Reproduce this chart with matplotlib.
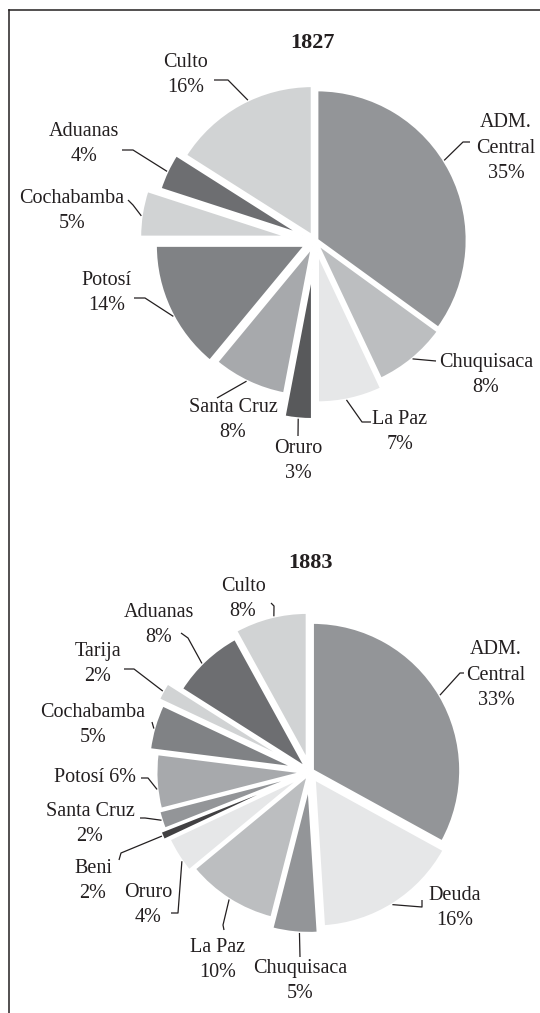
import numpy as np
import matplotlib.pyplot as plt
from matplotlib.lines import Line2D

W, H = 540, 1013
TEXT = "#231f20"

plt.rcParams["font.family"] = ["Liberation Serif", "DejaVu Serif"]

# ---- 1827 ----
cats_1827 = ["ADM.\nCentral", "Chuquisaca", "La Paz", "Oruro", "Santa Cruz",
             "Potosí", "Cochabamba", "Aduanas", "Culto"]
pct_1827 = [35, 8, 7, 3, 8, 14, 5, 4, 16]
colors_1827 = ["#939598", "#bcbec0", "#e6e7e8", "#58595b", "#a7a9ac",
               "#808285", "#d1d3d4", "#6d6e71", "#d1d3d4"]
explode_1827 = [0.015, 0.02, 0.08, 0.19, 0.04, 0.07, 0.17, 0.09, 0.04]

# ---- 1883 ----
cats_1883 = ["ADM.\nCentral", "Deuda", "Chuquisaca", "La Paz", "Oruro", "Beni",
             "Santa Cruz", "Potosí", "Cochabamba", "Tarija", "Aduanas", "Culto"]
pct_1883 = [33, 16, 5, 10, 4, 2, 2, 6, 5, 2, 8, 8]      # as printed
share_1883 = [33, 16, 5, 10, 4, 1, 2, 6, 5, 2, 8, 8]    # wedge sizes as drawn
colors_1883 = ["#939598", "#e6e7e8", "#939598", "#bcbec0", "#e6e7e8", "#414042",
               "#939598", "#a7a9ac", "#808285", "#d1d3d4", "#6d6e71", "#d1d3d4"]
explode_1883 = [0.02, 0.055, 0.09, 0.02, 0.055, 0.09, 0.055, 0.04, 0.095, 0.135, 0.035, 0.08]

# label layout in pixel coords: text centre, anchor fraction along wedge, leader bends
layout_1827 = [
    ((506, 148), 0.54, [(463, 142), (470, 142)]),
    ((486, 375), 0.50, [(436, 361)]),
    ((400, 432), 0.44, [(362, 422), (371, 422)]),
    ((298, 461), 0.50, [(298, 436)]),
    ((233, 420), 0.47, [(217, 398)]),
    ((107, 293), 0.56, [(145, 298), (134, 298)]),
    ((72, 211), 0.55, [(133, 205), (128, 200)]),
    ((84, 144), 0.50, [(133, 150), (122, 150)]),
    ((186, 75), 0.44, [(228, 80), (214, 80)]),
]
layout_1883 = [
    ((496, 675), 0.50, [(460, 673), (464, 673)]),
    ((455, 908), 0.49, [(422, 907), (422, 900)]),
    ((300, 981), 0.60, [(300, 957)]),
    ((218, 960), 0.50, [(223, 925), (224, 930)]),
    ((148, 905), 0.68, [(178, 913), (171, 913)]),
    ((93, 881), 0.50, [(121, 853), (119, 860)]),
    ((90, 824), 0.50, [(145, 818), (140, 818)]),
    ((95, 778), 0.64, [(148, 778), (141, 778)]),
    ((93, 725), 0.54, [(152, 722)]),
    ((98, 664), 0.50, [(134, 669), (124, 669)]),
    ((159, 625), 0.56, [(188, 638), (181, 633)]),
    ((243, 599), 0.45, [(274, 606), (271, 603)]),
]


def draw_pie(fig, title, cats, pcts, shares, colors, explode, layout,
             cx, cy, r, title_xy):
    ax = fig.add_axes([0, 0, 1, 1])
    ax.patch.set_alpha(0)

    def to_data(px, py):
        return (px - cx) / r, (cy - py) / r

    wedges, _ = ax.pie(
        shares,
        colors=colors,
        explode=explode,
        startangle=90,
        counterclock=False,
        radius=1,
        wedgeprops=dict(edgecolor="white", linewidth=2.0),
    )

    for w, cat, pct, (txt_xy, frac, bends) in zip(wedges, cats, pcts, layout):
        if cat == "Potosí" and title == "1883":
            label = f"{cat} {pct}%"
        else:
            label = f"{cat}\n{pct}%"
        tx, ty = to_data(*txt_xy)
        ax.text(tx, ty, label, ha="center", va="center", fontsize=14.5,
                color=TEXT, linespacing=1.45)

        theta = np.deg2rad(w.theta1 + frac * (w.theta2 - w.theta1))
        wx, wy = w.center
        xs = [wx + w.r * np.cos(theta)]
        ys = [wy + w.r * np.sin(theta)]
        for bx, by in bends:
            dx, dy = to_data(bx, by)
            xs.append(dx)
            ys.append(dy)
        ax.plot(xs, ys, color=TEXT, lw=0.9, solid_capstyle="butt", clip_on=False)

    tx, ty = to_data(*title_xy)
    ax.text(tx, ty, title, ha="center", va="center", fontsize=16,
            fontweight="bold", color=TEXT)

    ax.set_xlim((0 - cx) / r, (W - cx) / r)
    ax.set_ylim((cy - H) / r, cy / r)
    ax.axis("off")
    return ax


fig = plt.figure(figsize=(W / 100, H / 100), dpi=100)
fig.patch.set_facecolor("white")

draw_pie(fig, "1827", cats_1827, pct_1827, pct_1827, colors_1827, explode_1827,
         layout_1827, cx=315, cy=241, r=150, title_xy=(312, 43))
draw_pie(fig, "1883", cats_1883, pct_1883, share_1883, colors_1883, explode_1883,
         layout_1883, cx=310, cy=772, r=148, title_xy=(310, 563))

# frame (top and left rules)
fig.add_artist(Line2D([9 / W, 1], [1 - 10 / H, 1 - 10 / H],
                      transform=fig.transFigure, color=TEXT, lw=1.1))
fig.add_artist(Line2D([9 / W, 9 / W], [0, 1 - 10 / H],
                      transform=fig.transFigure, color=TEXT, lw=1.1))

fig.savefig("out.png", dpi=100, facecolor="white")
